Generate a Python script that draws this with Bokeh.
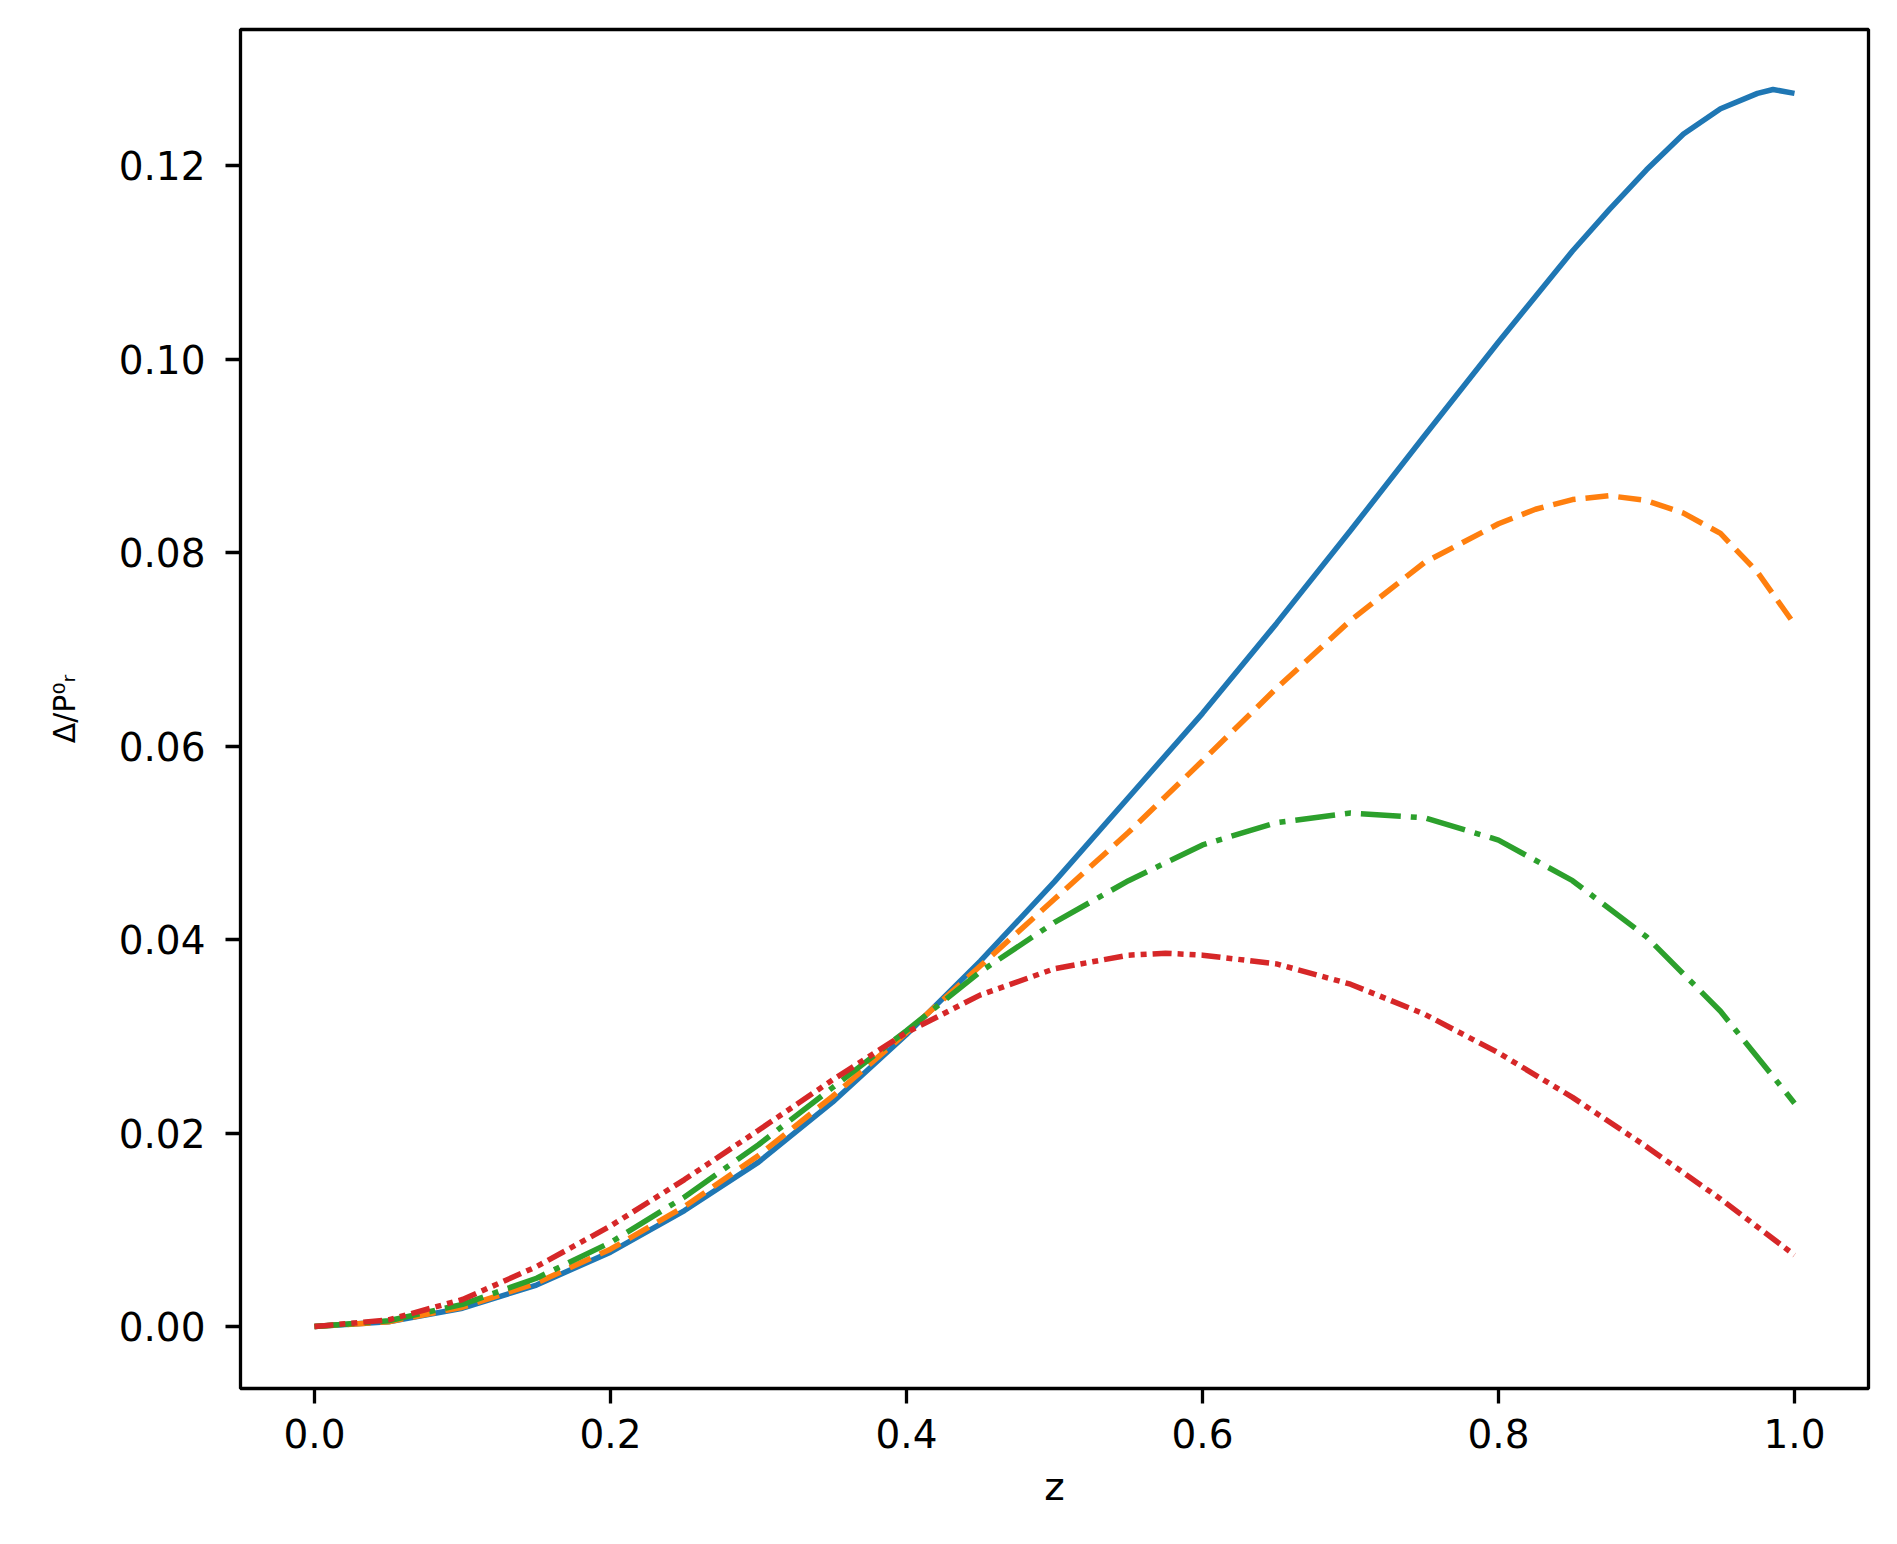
from bokeh.plotting import figure
from bokeh.models import Range1d, FixedTicker, PrintfTickFormatter
from bokeh.embed import file_html
from bokeh.resources import INLINE

# ---- data ----
z_blue = [0.0, 0.05, 0.1, 0.15, 0.2, 0.25, 0.3, 0.35, 0.4, 0.45, 0.5, 0.55, 0.6, 0.65,
          0.7, 0.75, 0.8, 0.85, 0.875, 0.9, 0.925, 0.95, 0.975, 0.9855, 1.0]
blue = [0.0, 0.0005, 0.0019, 0.0043, 0.0077, 0.0120, 0.0170, 0.0232, 0.0302, 0.0378,
        0.0460, 0.0547, 0.0634, 0.0727, 0.0823, 0.0921, 0.1018, 0.1112, 0.1155, 0.1196,
        0.1233, 0.1259, 0.1275, 0.1279, 0.1275]

z_orange = [0.0, 0.05, 0.1, 0.15, 0.2, 0.25, 0.3, 0.35, 0.4, 0.45, 0.5, 0.55, 0.6, 0.65,
            0.7, 0.75, 0.8, 0.825, 0.85, 0.875, 0.9, 0.925, 0.95, 0.975, 1.0]
orange = [0.0, 0.0005, 0.0020, 0.0045, 0.0080, 0.0124, 0.0177, 0.0238, 0.0304, 0.0373,
          0.0442, 0.0511, 0.0585, 0.0660, 0.0730, 0.0790, 0.0830, 0.0845, 0.0855, 0.0859,
          0.0854, 0.0841, 0.0820, 0.0780, 0.0726]

z_green = [0.0, 0.05, 0.1, 0.15, 0.2, 0.25, 0.3, 0.35, 0.4, 0.45, 0.5, 0.55, 0.6, 0.65,
           0.7, 0.75, 0.8, 0.85, 0.9, 0.95, 1.0]
green = [0.0, 0.0006, 0.0023, 0.0050, 0.0087, 0.0134, 0.0188, 0.0247, 0.0306, 0.0367,
         0.0418, 0.0461, 0.0498, 0.0521, 0.0531, 0.0526, 0.0503, 0.0461, 0.0403, 0.0326, 0.0231]

z_red = [0.0, 0.05, 0.1, 0.15, 0.2, 0.25, 0.3, 0.35, 0.4, 0.45, 0.5, 0.55, 0.575, 0.6,
         0.65, 0.7, 0.75, 0.8, 0.85, 0.9, 0.95, 1.0]
red = [0.0, 0.0007, 0.0028, 0.0062, 0.0104, 0.0152, 0.0203, 0.0255, 0.0304, 0.0343,
       0.0370, 0.0384, 0.0386, 0.0384, 0.0375, 0.0354, 0.0323, 0.0283, 0.0237, 0.0186,
       0.0132, 0.0074]

x_ticks = [0.0, 0.2, 0.4, 0.6, 0.8, 1.0]
y_ticks = [0.0, 0.02, 0.04, 0.06, 0.08, 0.10, 0.12]

FONT = "DejaVu Sans"
FS = "39px"

p = figure(width=1880, height=1530, output_backend="svg", toolbar_location=None,
           x_range=Range1d(-0.05, 1.05), y_range=Range1d(-0.0064, 0.1341))
p.min_border_left = 240
p.min_border_right = 12
p.min_border_top = 29
p.min_border_bottom = 142

p.grid.visible = False
p.background_fill_color = "white"
p.border_fill_color = "white"
p.outline_line_color = "black"
p.outline_line_width = 3.3

for ax in (p.xaxis[0], p.yaxis[0]):
    ax.axis_line_color = None
    ax.major_tick_line_width = 3.3
    ax.major_tick_line_color = "black"
    ax.major_tick_out = 15
    ax.major_tick_in = 0
    ax.minor_tick_line_color = None
    ax.major_label_text_font = FONT
    ax.major_label_text_font_size = FS
    ax.major_label_text_color = "black"
    ax.axis_label_text_font = FONT
    ax.axis_label_text_font_style = "normal"
    ax.axis_label_text_color = "black"

p.xaxis[0].major_label_standoff = 15
p.yaxis[0].major_label_standoff = 20

p.xaxis[0].ticker = FixedTicker(ticks=x_ticks)
p.yaxis[0].ticker = FixedTicker(ticks=y_ticks)
p.xaxis[0].formatter = PrintfTickFormatter(format="%.1f")
p.yaxis[0].formatter = PrintfTickFormatter(format="%.2f")

p.xaxis[0].axis_label = "z"
p.xaxis[0].axis_label_text_font_size = FS
p.xaxis[0].axis_label_standoff = 13
p.yaxis[0].axis_label = "Δ/P⁰ᵣ"
p.yaxis[0].axis_label_text_font_size = "30px"
p.yaxis[0].axis_label_standoff = 34

LW = 5.5
p.line(z_blue, blue, line_color="#1f77b4", line_width=LW)
p.line(z_orange, orange, line_color="#ff7f0e", line_width=LW, line_dash="23 10")
p.line(z_green, green, line_color="#2ca02c", line_width=LW, line_dash="40 10 6 10")
p.line(z_red, red, line_color="#d62728", line_width=LW, line_dash="19 6 6 6 6 6")

open("out.html", "w").write(file_html(p, INLINE))
